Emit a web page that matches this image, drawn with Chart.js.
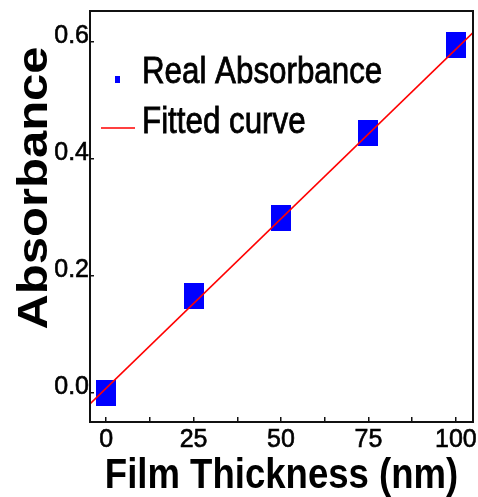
<!DOCTYPE html>
<html>
<head>
<meta charset="utf-8">
<script src="https://cdn.jsdelivr.net/npm/chart.js@4.4.1/dist/chart.umd.min.js"></script>
<style>
  html, body { margin: 0; padding: 0; background: #fff; }
  #chart { display: block; }
</style>
</head>
<body>
<canvas id="chart" width="478" height="497"></canvas>
<script>
// values
const thickness = [0, 25, 50, 75, 100];
const absorbance = [0.0, 0.165, 0.299, 0.444, 0.595];
// fitted line, ends at the plot edges
const fitThickness = [-4.6, 104.9];
const fitAbsorbance = [-0.019, 0.616];
const xTicks = [0, 12.5, 25, 37.5, 50, 62.5, 75, 87.5, 100];
const yTicks = [0, 0.2, 0.4, 0.6];
const xTitle = 'Film Thickness (nm)';
const yTitle = 'Absorbance';

// square marker is a bit taller than wide in the original
const marker = document.createElement('canvas');
marker.width = 20;
marker.height = 26;
const mctx = marker.getContext('2d');
mctx.fillStyle = '#0000ff';
mctx.fillRect(0, 0, 20, 26);

// frame, axis titles and legend drawn on top of the chart
const decorations = {
  id: 'decorations',
  afterDraw(chart) {
    const ctx = chart.ctx;
    const a = chart.chartArea;
    const sets = chart.data.datasets;
    ctx.save();

    ctx.strokeStyle = '#111';
    ctx.lineWidth = 2;
    ctx.strokeRect(a.left, a.top, a.right - a.left, a.bottom - a.top);

    ctx.fillStyle = '#000';
    ctx.textAlign = 'center';
    ctx.textBaseline = 'alphabetic';

    ctx.save();
    ctx.font = 'bold 42px "Liberation Sans"';
    ctx.translate((a.left + a.right) / 2, 488);
    ctx.scale(0.87, 1);
    ctx.fillText(xTitle, 0, 0);
    ctx.restore();

    ctx.save();
    ctx.font = 'bold 49px "Liberation Sans"';
    ctx.translate(47, 188);
    ctx.rotate(-Math.PI / 2);
    ctx.scale(1, 0.86);
    ctx.fillText(yTitle, 0, 0);
    ctx.restore();

    // legend
    ctx.textAlign = 'left';
    ctx.font = '36px "Liberation Sans"';
    ctx.fillStyle = '#0000ff';
    ctx.fillRect(115, 76, 5, 7);
    ctx.strokeStyle = '#ff0000';
    ctx.lineWidth = 1.5;
    ctx.beginPath();
    ctx.moveTo(101, 128);
    ctx.lineTo(135, 128);
    ctx.stroke();

    ctx.fillStyle = '#000';
    ctx.strokeStyle = '#000';
    ctx.lineWidth = 0.8;
    [[sets[1].label, 83], [sets[0].label, 133]].forEach(([text, y]) => {
      ctx.save();
      ctx.translate(142, y);
      ctx.scale(0.87, 1);
      ctx.fillText(text, 0, 0);
      ctx.strokeText(text, 0, 0);
      ctx.restore();
    });

    ctx.restore();
  }
};

const tickFont = { family: 'Liberation Sans', size: 25 };

new Chart(document.getElementById('chart'), {
  type: 'scatter',
  data: {
    datasets: [
      {
        type: 'line',
        label: 'Fitted curve',
        data: fitThickness.map((x, i) => ({ x: x, y: fitAbsorbance[i] })),
        borderColor: '#ff0000',
        borderWidth: 1.5,
        pointRadius: 0,
        fill: false,
        order: 0
      },
      {
        label: 'Real Absorbance',
        data: thickness.map((x, i) => ({ x: x, y: absorbance[i] })),
        pointStyle: marker,
        backgroundColor: '#0000ff',
        order: 1
      }
    ]
  },
  options: {
    responsive: false,
    animation: false,
    devicePixelRatio: 1,
    layout: { padding: { top: 11, right: 5, left: 0, bottom: 0 } },
    plugins: {
      legend: { display: false },
      tooltip: { enabled: false }
    },
    scales: {
      x: {
        type: 'linear',
        min: -4.6,
        max: 104.9,
        afterBuildTicks: s => { s.ticks = xTicks.map(v => ({ value: v })); },
        afterFit: s => { s.height = 75; s.paddingLeft = 0; s.paddingRight = 0; },
        border: { display: false },
        grid: { drawOnChartArea: false, tickLength: -5, color: '#111', lineWidth: 1.5 },
        ticks: {
          padding: 8,
          autoSkip: false,
          maxRotation: 0,
          color: '#000',
          textStrokeColor: '#000',
          textStrokeWidth: 0.6,
          font: tickFont,
          callback: v => (v % 25 === 0 ? String(v) : '')
        }
      },
      y: {
        type: 'linear',
        min: -0.05,
        max: 0.653,
        afterBuildTicks: s => { s.ticks = yTicks.map(v => ({ value: v })); },
        afterFit: s => { s.width = 90; s.paddingTop = 0; s.paddingBottom = 0; },
        border: { display: false },
        grid: { drawOnChartArea: false, tickLength: -4, color: '#111', lineWidth: 1.5 },
        ticks: {
          padding: 5,
          labelOffset: -6,
          color: '#000',
          textStrokeColor: '#000',
          textStrokeWidth: 0.6,
          font: tickFont,
          callback: v => v.toFixed(1)
        }
      }
    }
  },
  plugins: [decorations]
});
</script>
</body>
</html>
